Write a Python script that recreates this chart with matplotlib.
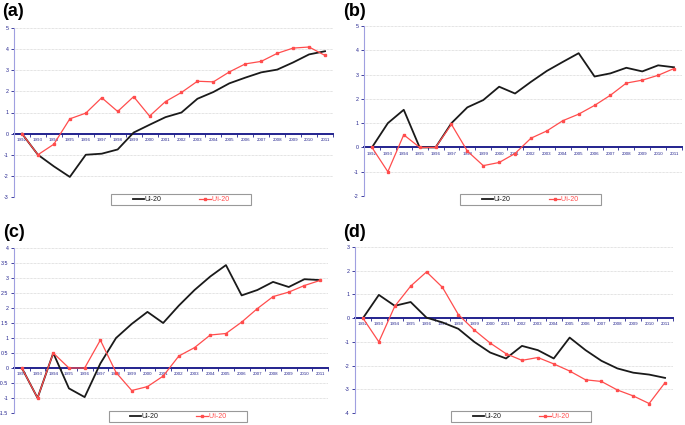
import matplotlib.pyplot as plt
from matplotlib.patches import Rectangle
from matplotlib.ticker import FuncFormatter

plt.rcParams['font.family'] = ['Liberation Sans', 'DejaVu Sans']

years = [str(y) for y in range(1992, 2012)]

# panel (a)
a_black = [0, -1.0, -1.55, -2.05, -1.0, -0.95, -0.75, 0.05, 0.42, 0.78,
           1.0, 1.65, 1.97, 2.38, 2.65, 2.9, 3.03, 3.37, 3.75, 3.9]
a_red = [0, -1.0, -0.5, 0.7, 0.97, 1.7, 1.05, 1.75, 0.83, 1.52,
         1.95, 2.48, 2.45, 2.92, 3.3, 3.42, 3.8, 4.05, 4.1, 3.7]
# panel (b)
b_black = [0, 1.0, 1.55, 0, 0, 1.0, 1.65, 1.95, 2.5, 2.22,
           2.7, 3.15, 3.52, 3.88, 2.92, 3.05, 3.28, 3.13, 3.38, 3.3]
b_red = [0, -1.0, 0.52, 0, 0, 0.95, -0.15, -0.75, -0.62, -0.25,
         0.38, 0.68, 1.1, 1.37, 1.73, 2.15, 2.65, 2.77, 2.97, 3.25]
# panel (c)
c_black = [0, -1.0, 0.5, -0.68, -0.97, 0.15, 1.0, 1.47, 1.87, 1.5,
           2.08, 2.6, 3.05, 3.43, 2.42, 2.6, 2.87, 2.7, 2.96, 2.93]
c_red = [0, -1.0, 0.5, 0, 0, 0.93, -0.15, -0.75, -0.62, -0.27,
         0.4, 0.68, 1.1, 1.15, 1.53, 1.98, 2.38, 2.53, 2.75, 2.92]
# panel (d)
d_black = [0, 0.98, 0.52, 0.68, 0.02, -0.18, -0.45, -1.0, -1.45, -1.7,
           -1.17, -1.35, -1.7, -0.82, -1.35, -1.8, -2.12, -2.3, -2.38, -2.52]
d_red = [0, -1.0, 0.5, 1.35, 1.95, 1.3, 0.15, -0.5, -1.05, -1.5,
         -1.78, -1.66, -1.93, -2.23, -2.6, -2.67, -3.03, -3.28, -3.6, -2.72]

panels = [
    ('(a)', a_black, a_red, (-3, 5), 1.0),
    ('(b)', b_black, b_red, (-2, 5), 1.0),
    ('(c)', c_black, c_red, (-1.5, 4), 0.5),
    ('(d)', d_black, d_red, (-4, 3), 1.0),
]

# axes rectangles in pixels: left, top, right, bottom
boxes = [(14, 28, 333, 197), (364, 26, 682, 196), (14, 248, 328, 413), (355, 247, 673, 413)]
label_pos = [(2, 3), (343, 3), (3, 224), (343, 224)]
legend_box = [(111, 194, 251, 205), (460, 194, 601, 205), (109, 411, 247, 422), (451, 411, 591, 422)]

W, H = 685, 425
navy = '#23238e'
fig = plt.figure(figsize=(W / 100, H / 100), dpi=100)

for (lab, blk, red, ylim, step), (l, t, r, b), (lx, ly), (gx0, gy0, gx1, gy1) in zip(panels, boxes, label_pos, legend_box):
    ax = fig.add_axes([l / W, 1 - b / H, (r - l) / W, (b - t) / H])
    x = list(range(len(years)))
    ax.plot(x, blk, color='#1a1a1a', lw=1.3, label='Ui-20', zorder=3)
    ax.plot(x, red, color='#ff4d4d', lw=0.9, marker='s', ms=1.6, label="U'i-20", zorder=4)
    ax.set_xlim(-0.5, len(years) - 0.5)
    ax.set_ylim(*ylim)

    n = int(round((ylim[1] - ylim[0]) / step))
    ax.set_yticks([ylim[0] + i * step for i in range(n + 1)])
    ax.yaxis.set_major_formatter(FuncFormatter(lambda v, _: f'{v:g}'))
    ax.tick_params(axis='y', labelsize=3.8, colors=navy, length=2, width=0.6, pad=2)
    ax.grid(axis='y', color='#c8c8c8', ls=(0, (1, 1)), lw=0.5)

    ax.set_xticks(x)
    ax.set_xticklabels(years)
    ax.set_xticks([i - 0.5 for i in range(len(years) + 1)], minor=True)
    ax.tick_params(axis='x', which='major', length=0, labelsize=3.2, colors=navy, pad=3)
    ax.tick_params(axis='x', which='minor', length=2, width=0.6, color=navy)

    ax.spines['bottom'].set_position(('data', 0))
    ax.spines['bottom'].set_color(navy)
    ax.spines['bottom'].set_linewidth(1.4)
    ax.spines['bottom'].set_zorder(2)
    ax.spines['left'].set_color('#a0a0e0')
    ax.spines['left'].set_linewidth(0.8)
    ax.spines['top'].set_visible(False)
    ax.spines['right'].set_visible(False)

    fig.text(lx / W, 1 - ly / H, lab, fontsize=13, fontweight='bold', va='top', ha='left')

    fig.patches.append(Rectangle((gx0 / W, 1 - gy1 / H), (gx1 - gx0) / W, (gy1 - gy0) / H,
                                 transform=fig.transFigure, facecolor='white',
                                 edgecolor='#999999', lw=0.8, zorder=5))
    leg = fig.legend(*ax.get_legend_handles_labels(), loc='center',
                     bbox_to_anchor=((gx0 + gx1) / 2 / W, 1 - (gy0 + gy1) / 2 / H),
                     ncol=2, frameon=False, fontsize=5, handlelength=1.6,
                     handletextpad=0.1, columnspacing=5.5, numpoints=1)
    leg.set_zorder(6)
    for txt, c in zip(leg.get_texts(), ['#1a1a1a', '#ff4d4d']):
        txt.set_color(c)

fig.savefig('out.png', dpi=100)
